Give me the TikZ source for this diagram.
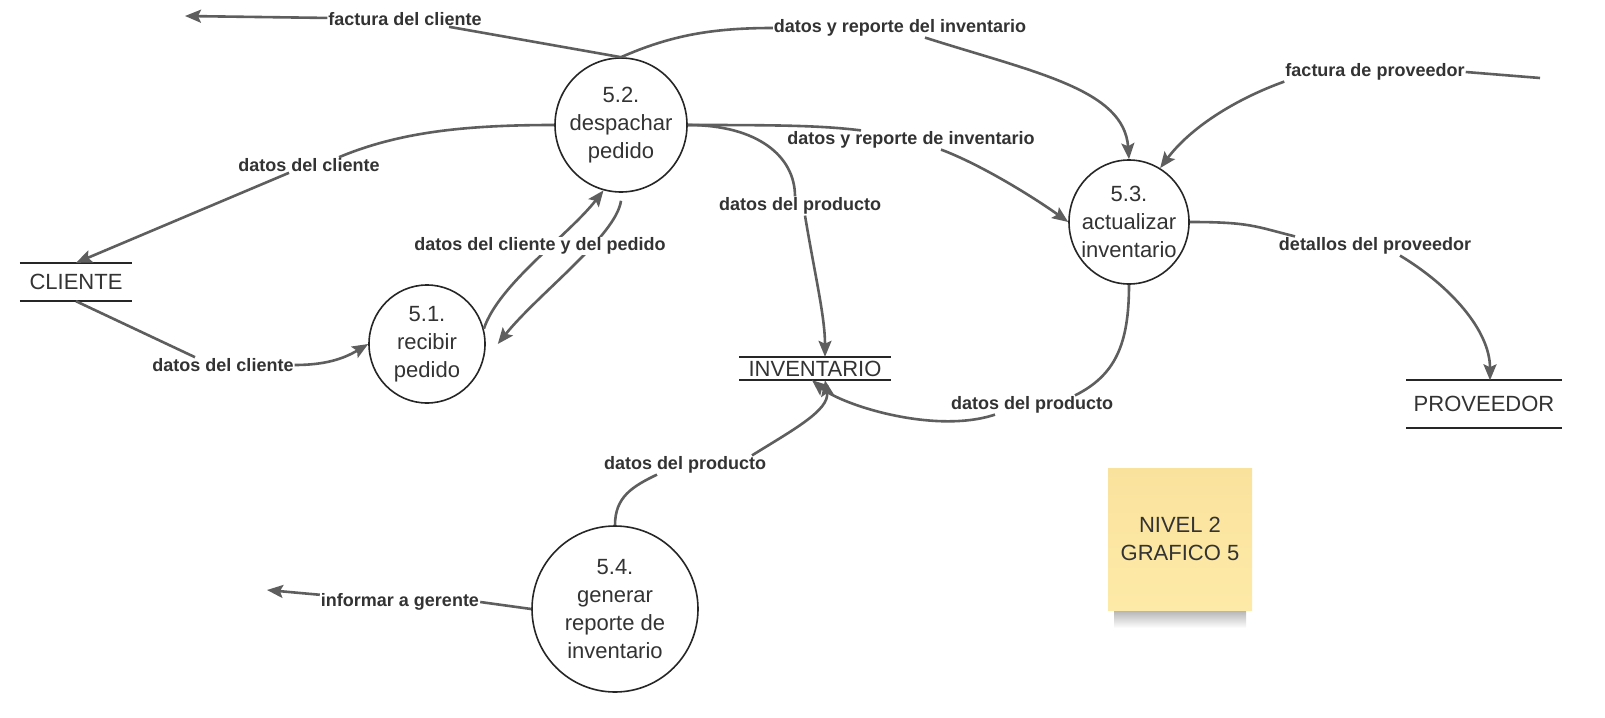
\documentclass[tikz,border=0pt]{standalone}
\usepackage{fontspec}
\setmainfont{Liberation Sans}
\usepackage{xcolor}
\usepackage{tikz}
\usetikzlibrary{arrows.meta, shapes.geometric}
\definecolor{flowgray}{HTML}{5E5E5E}
\definecolor{inkgray}{HTML}{333333}
\definecolor{notetop}{HTML}{F9E29C}
\definecolor{notebot}{HTML}{FEEAA8}

\begin{document}
\begin{tikzpicture}[x=1pt, y=-1pt, >={Stealth[length=16pt, width=13pt, inset=3pt]},
        proc/.style={ellipse, draw=black!85, line width=1.6pt, inner sep=0pt},
        proctext/.style={align=center, text=inkgray, font=\fontsize{22}{28}\selectfont},
        store/.style={inner sep=0pt, text=inkgray, font=\fontsize{22}{26}\selectfont},
        storeline/.style={draw=black!85, line width=1.8pt},
        flow/.style={draw=flowgray, line width=2.6pt},
        lbl/.style={inner sep=1pt, text=inkgray, font=\bfseries\fontsize{18}{20}\selectfont},
        note/.style={rectangle, inner sep=0pt, align=center, minimum width=144pt, minimum height=142pt,
            top color=notetop, bottom color=notebot, text=inkgray, font=\fontsize{22}{28}\selectfont}]

        \useasboundingbox[fill=white] (0,0) rectangle (1605,717);

        % Processes
        \node[proc, minimum width=116pt, minimum height=118pt,
            label={[proctext]center:{5.1.\\recibir\\pedido}}] (p51) at (427,344) {};
        \node[proc, minimum width=132pt, minimum height=134pt,
            label={[proctext]center:{5.2.\\despachar\\pedido}}] (p52) at (621,125) {};
        \node[proc, minimum width=120pt, minimum height=124pt,
            label={[proctext]center:{5.3.\\actualizar\\inventario}}] (p53) at (1129,222) {};
        \node[proc, minimum width=166pt, minimum height=166pt,
            label={[proctext]center:{5.4.\\generar\\reporte de\\inventario}}] (p54) at (615,609) {};

        % Stores
        \node[store, minimum width=112pt, minimum height=38pt] (cli) at (76,282) {CLIENTE};
        \node[store, minimum width=151pt, minimum height=23pt] (inv) at (815,368.5) {INVENTARIO};
        \node[store, minimum width=155pt, minimum height=47pt] (prov) at (1484,404) {PROVEEDOR};
        \draw[storeline] (cli.north west) -- (cli.north east) (cli.south west) -- (cli.south east);
        \draw[storeline] (inv.north west) -- (inv.north east) (inv.south west) -- (inv.south east);
        \draw[storeline] (prov.north west) -- (prov.north east) (prov.south west) -- (prov.south east);

        % Note
        \shade[top color=black!30, bottom color=white] (1114,610) rectangle (1246,628);
        \node[note] (nota) at (1180,539) {NIVEL 2\\GRAFICO 5};

        % Labels
        \node[lbl] (lfc) at (405,19) {factura del cliente};
        \node[lbl] (ldri) at (900,28) {datos y reporte del inventario};
        \node[lbl] (ldc1) at (309,165) {datos del cliente};
        \node[lbl] (ldc2) at (223,365) {datos del cliente};
        \node[lbl] (ldrn) at (911,140) {datos y reporte de inventario};
        \node[lbl] (ldp1) at (800,206) {datos del producto};
        \node[lbl] (lfp) at (1375,72) {factura de proveedor};
        \node[lbl] (ldtp) at (1375,246) {detallos del proveedor};
        \node[lbl] (ldp2) at (1032,405) {datos del producto};
        \node[lbl] (ldp3) at (685,465) {datos del producto};
        \node[lbl] (lig) at (400,602) {informar a gerente};

        \coordinate (tipfc) at (185,16);
        \coordinate (fpstart) at (1540,78);
        \coordinate (tipig) at (267,590);

        % Edges
        \draw[flow] (p52.north) -- (lfc);
        \draw[flow, ->] (lfc) -- (tipfc);
        \draw[flow] (p52.north) .. controls +(50,-22) and +(-60,0) .. (ldri.west);
        \draw[flow, ->] ([xshift=25pt]ldri.south) .. controls +(110,35) and +(-5,-70) .. (p53.north);
        \draw[flow] (p52.west) .. controls +(-90,0) and +(60,-25) .. ([xshift=30pt]ldc1.north);
        \draw[flow, ->] ([xshift=-20pt]ldc1.south) -- (cli.north);
        \draw[flow] (cli.south) -- ([xshift=-28pt]ldc2.north);
        \draw[flow, ->] (ldc2.east) .. controls +(30,0) and +(-25,15) .. (p51.west);
        \draw[flow, ->] (p51.15) .. controls +(15,-45) and +(-35,45) .. (p52.255);
        \draw[flow, ->] ([yshift=-8pt]p52.south) .. controls +(-5,35) and +(40,-50) .. ([xshift=12pt]p51.east);
        \draw[flow] (p52.east) .. controls +(90,0) and +(-40,-5) .. ([xshift=-50pt]ldrn.north);
        \draw[flow, ->] ([xshift=30pt]ldrn.south) .. controls +(40,15) and +(-35,-25) .. (p53.west);
        \draw[flow] (p52.east) .. controls +(70,0) and +(0,-40) .. ([xshift=-5pt]ldp1.north);
        \draw[flow, ->] ([xshift=5pt]ldp1.south) .. controls +(10,60) and +(0,-40) .. ([xshift=10pt]inv.north);
        \draw[flow] (fpstart) -- (lfp.east);
        \draw[flow, ->] (lfp.south west) .. controls +(-50,18) and +(30,-40) .. (p53.60);
        \draw[flow] (p53.east) .. controls +(60,0) and +(-40,-10) .. ([xshift=-80pt]ldtp.north);
        \draw[flow, ->] ([xshift=25pt]ldtp.south) .. controls +(50,30) and +(0,-50) .. ([xshift=6pt]prov.north);
        \draw[flow] (p53.south) .. controls +(0,60) and +(40,-20) .. ([xshift=43pt]ldp2.north);
        \draw[flow, ->] ([xshift=-37pt]ldp2.south) .. controls +(-60,20) and +(30,25) .. ([xshift=-3pt]inv.south);
        \draw[flow] (p54.north) .. controls +(0,-28) and +(-25,12) .. ([xshift=-28pt]ldp3.south);
        \draw[flow, ->] ([xshift=67pt]ldp3.north) .. controls +(40,-25) and +(5,30) .. ([xshift=10pt]inv.south);
        \draw[flow] (p54.west) -- (lig.east);
        \draw[flow, ->] (lig) -- (tipig);

        % Label between the two flows of 5.1 and 5.2
        \node[lbl, fill=white] (ldcp) at (540,246) {datos del cliente y del pedido};
\end{tikzpicture}
\end{document}
